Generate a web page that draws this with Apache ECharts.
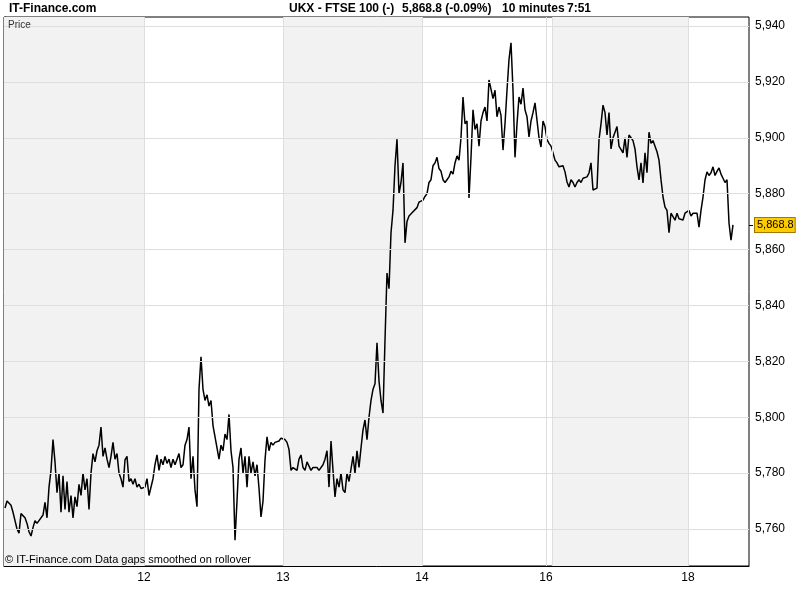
<!DOCTYPE html>
<html>
<head>
<meta charset="utf-8">
<script src="https://cdn.jsdelivr.net/npm/echarts@6/dist/echarts.min.js"></script>
<style>html,body{margin:0;padding:0;background:#fff}#c{width:800px;height:600px}</style>
</head>
<body>
<div id="c"></div>
<script>
// 10-minute samples, index 0 = first sample of the 11th
const prices = [
5767.5,5770,5770,5768.5,5766,5763,5760,5758.5,5765.5,5765,
5764,5762,5759,5757.5,5760.5,5763,5762,5763,5763,5765,
5769.5,5764,5775,5781,5792,5784,5773,5780,5766,5779,
5767,5777,5766,5772,5764,5771.5,5768,5776,5772,5780,
5774,5778,5767,5780,5787,5784,5788,5790,5796.5,5786,
5789,5785,5782,5786,5791,5785,5787,5780,5778,5775,
5784.7,5786,5777,5778,5776,5778,5775,5776,5774.5,5775,
5775,5778,5772,5771.5,5778,5783,5786.5,5781,5785,5783,
5786,5783.5,5785,5782,5785,5783,5785,5787,5782,5783,
5790,5792,5796.5,5778,5786,5774,5768,5810,5821.6,5810,
5806,5808,5804,5806,5797,5797,5789,5785,5790,5788,
5794,5792,5801,5788,5782,5756,5770,5785,5789,5780,
5786,5775,5786,5780,5784,5779,5783,5774.6,5764.3,5770,
5784.7,5793,5788,5791,5790,5791,5790.5,5791.5,5792.5,
5792.5,5792,5791,5788.5,5781,5782,5781.5,5781,5785,5786.5,
5782,5781,5784,5783.5,5781,5782,5781.5,5782,5781,5780.5,
5783,5785,5788,5775,5791.5,5781,5771.5,5778,5775,5780,
5774,5773,5780,5777,5777,5786,5780,5788,5782,5789,
5795.5,5799,5792,5800,5806,5810,5812,5826.6,5813,5806,
5801.5,5827.6,5851.6,5846,5866,5874,5890,5899.5,5880,5884,
5891,5862.4,5870,5872,5871.5,5873.5,5874,5875,5877,5877.7,
5877.7,5879,5880,5884,5885,5890,5891,5893,5889,5888,
5885,5884,5885,5886,5888,5887,5891,5893.5,5892,5900,
5914.6,5905,5906,5878.5,5893,5910,5903,5905,5897,5906,
5909,5911,5906,5920.7,5921.4,5914,5917,5907.5,5911,5908,
5895.6,5905,5917,5928,5934,5917,5893,5905,5914.6,5912,
5917.8,5910,5907.5,5900.3,5906,5909,5912.5,5912,5900,5896.7,
5906,5904,
5899.3,5898,5897,5894.6,5892,5891,5889.6,5889.3,5890,5887.8,
5884.2,5882.4,5885,5884,5882.4,5884,5885,5884,5885.5,5885,
5886,5887.4,5891,5881.3,5881.3,5882,5899.3,5905,5911.7,5909,
5901,5909,5896,5900,5902,5904,5897,5897,5894.6,5900,
5893,5901,5900,5899,5896,5889.6,5884.9,5891,5883.8,5894.6,
5887.5,5902,5898,5899,5897,5895,5892,5885,5878.8,5875.2,
5874,5866,5873,5873,5870.5,5873,5871,5870.6,5870.6,5873,
5873.5,
5874,5872,5873,5872.3,5873,5868,5874,5878.8,5884.9,5887.8,
5886.5,5887.5,5889.6,5886.5,5888,5889.2,5887,5885.5,5884,5885,
5869.5,5863.4,5868.8
];
// day starts, in sample index units
const dayLabels = ['12', '13', '14', '16', '18'];
const dayStarts = [69.5, 139, 208.5, 270.5, 341.5];
const dayLines = [69.5, 139, 208.5, 270.5, 273.5, 341.5];
const shadedDays = [[-0.5, 69.5], [139, 208.5], [273.5, 341.5]];
const priceLabels = [5760, 5780, 5800, 5820, 5840, 5860, 5880, 5900, 5920, 5940];
const priceTicks = [5750, 5760, 5770, 5780, 5790, 5800, 5810, 5820, 5830, 5840, 5850, 5860, 5870, 5880, 5890, 5900, 5910, 5920, 5930, 5940];

const fmt = (v, d) => v.toLocaleString('en-US', {minimumFractionDigits: d, maximumFractionDigits: d});
const last = prices[prices.length - 1];
const FONT = '"Liberation Sans", Arial, sans-serif';
const Y_MIN = 5746.76, Y_MAX = 5943.22;

const chart = echarts.init(document.getElementById('c'));
chart.setOption({
  animation: false,
  backgroundColor: '#fff',
  grid: {left: 4, right: 51, top: 17, bottom: 34, show: true, borderColor: '#000', borderWidth: 1, backgroundColor: '#fff'},
  xAxis: {
    type: 'value', min: -0.5, max: 372,
    axisLine: {show: true, lineStyle: {color: '#000', width: 1}},
    axisTick: {show: false},
    splitLine: {show: false},
    axisLabel: {
      customValues: dayStarts,
      formatter: v => { const k = dayStarts.indexOf(v); return k >= 0 ? dayLabels[k] : ''; },
      fontSize: 12, color: '#000', margin: 6, fontFamily: FONT
    }
  },
  yAxis: [
    {
      type: 'value', position: 'right', min: Y_MIN, max: Y_MAX,
      axisLine: {show: true, lineStyle: {color: '#000', width: 1}},
      axisTick: {show: true, customValues: priceTicks, length: 4, lineStyle: {color: '#000'}},
      splitLine: {show: false},
      axisLabel: {customValues: priceLabels, formatter: v => fmt(v, 0), fontSize: 12, color: '#000', margin: 6, fontFamily: FONT}
    },
    {
      type: 'value', position: 'right', min: Y_MIN, max: Y_MAX,
      axisLine: {show: false},
      axisTick: {show: true, customValues: [last], length: 4, lineStyle: {color: '#000'}},
      splitLine: {show: false},
      axisLabel: {
        customValues: [last], formatter: v => fmt(v, 1), fontSize: 11, color: '#000', margin: 6, fontFamily: FONT,
        backgroundColor: '#ffcc00', borderColor: '#a07800', borderWidth: 1, padding: [2, 1, 1, 2]
      }
    }
  ],
  graphic: [
    {type: 'text', x: 9, y: 9, style: {text: 'IT-Finance.com', font: 'bold 12px ' + FONT, fill: '#000', verticalAlign: 'middle'}},
    {type: 'text', x: 289, y: 9, style: {text: 'UKX - FTSE 100 (-)', font: 'bold 12px ' + FONT, fill: '#000', verticalAlign: 'middle'}},
    {type: 'text', x: 402, y: 9, style: {text: '5,868.8 (-0.09%)', font: 'bold 12px ' + FONT, fill: '#000', verticalAlign: 'middle'}},
    {type: 'text', x: 502, y: 9, style: {text: '10 minutes', font: 'bold 12px ' + FONT, fill: '#000', verticalAlign: 'middle'}},
    {type: 'text', x: 567, y: 9, style: {text: '7:51', font: 'bold 12px ' + FONT, fill: '#000', verticalAlign: 'middle'}},
    {type: 'text', x: 8, y: 25, z: 10, style: {text: 'Price', font: '10px ' + FONT, fill: '#333', verticalAlign: 'middle'}},
    {type: 'text', x: 5, y: 560, z: 10, style: {text: '© IT-Finance.com Data gaps smoothed on rollover', font: '11px ' + FONT, fill: '#000', verticalAlign: 'middle'}}
  ],
  series: [
    {
      type: 'line', data: [], z: 1, silent: true,
      markArea: {silent: true, itemStyle: {color: '#f2f2f2'}, data: shadedDays.map(([a, b]) => [{xAxis: a}, {xAxis: b}])},
      markLine: {
        silent: true, symbol: ['none', 'none'], label: {show: false},
        lineStyle: {color: '#dedede', type: 'solid', width: 1},
        data: [...dayLines.map(v => ({xAxis: v})), ...priceLabels.map(v => ({yAxis: v}))]
      }
    },
    {
      type: 'line', z: 3, data: prices.map((p, i) => [i, p]),
      showSymbol: false, symbol: 'none',
      lineStyle: {color: '#000', width: 1.5}
    }
  ]
});
</script>
</body>
</html>
